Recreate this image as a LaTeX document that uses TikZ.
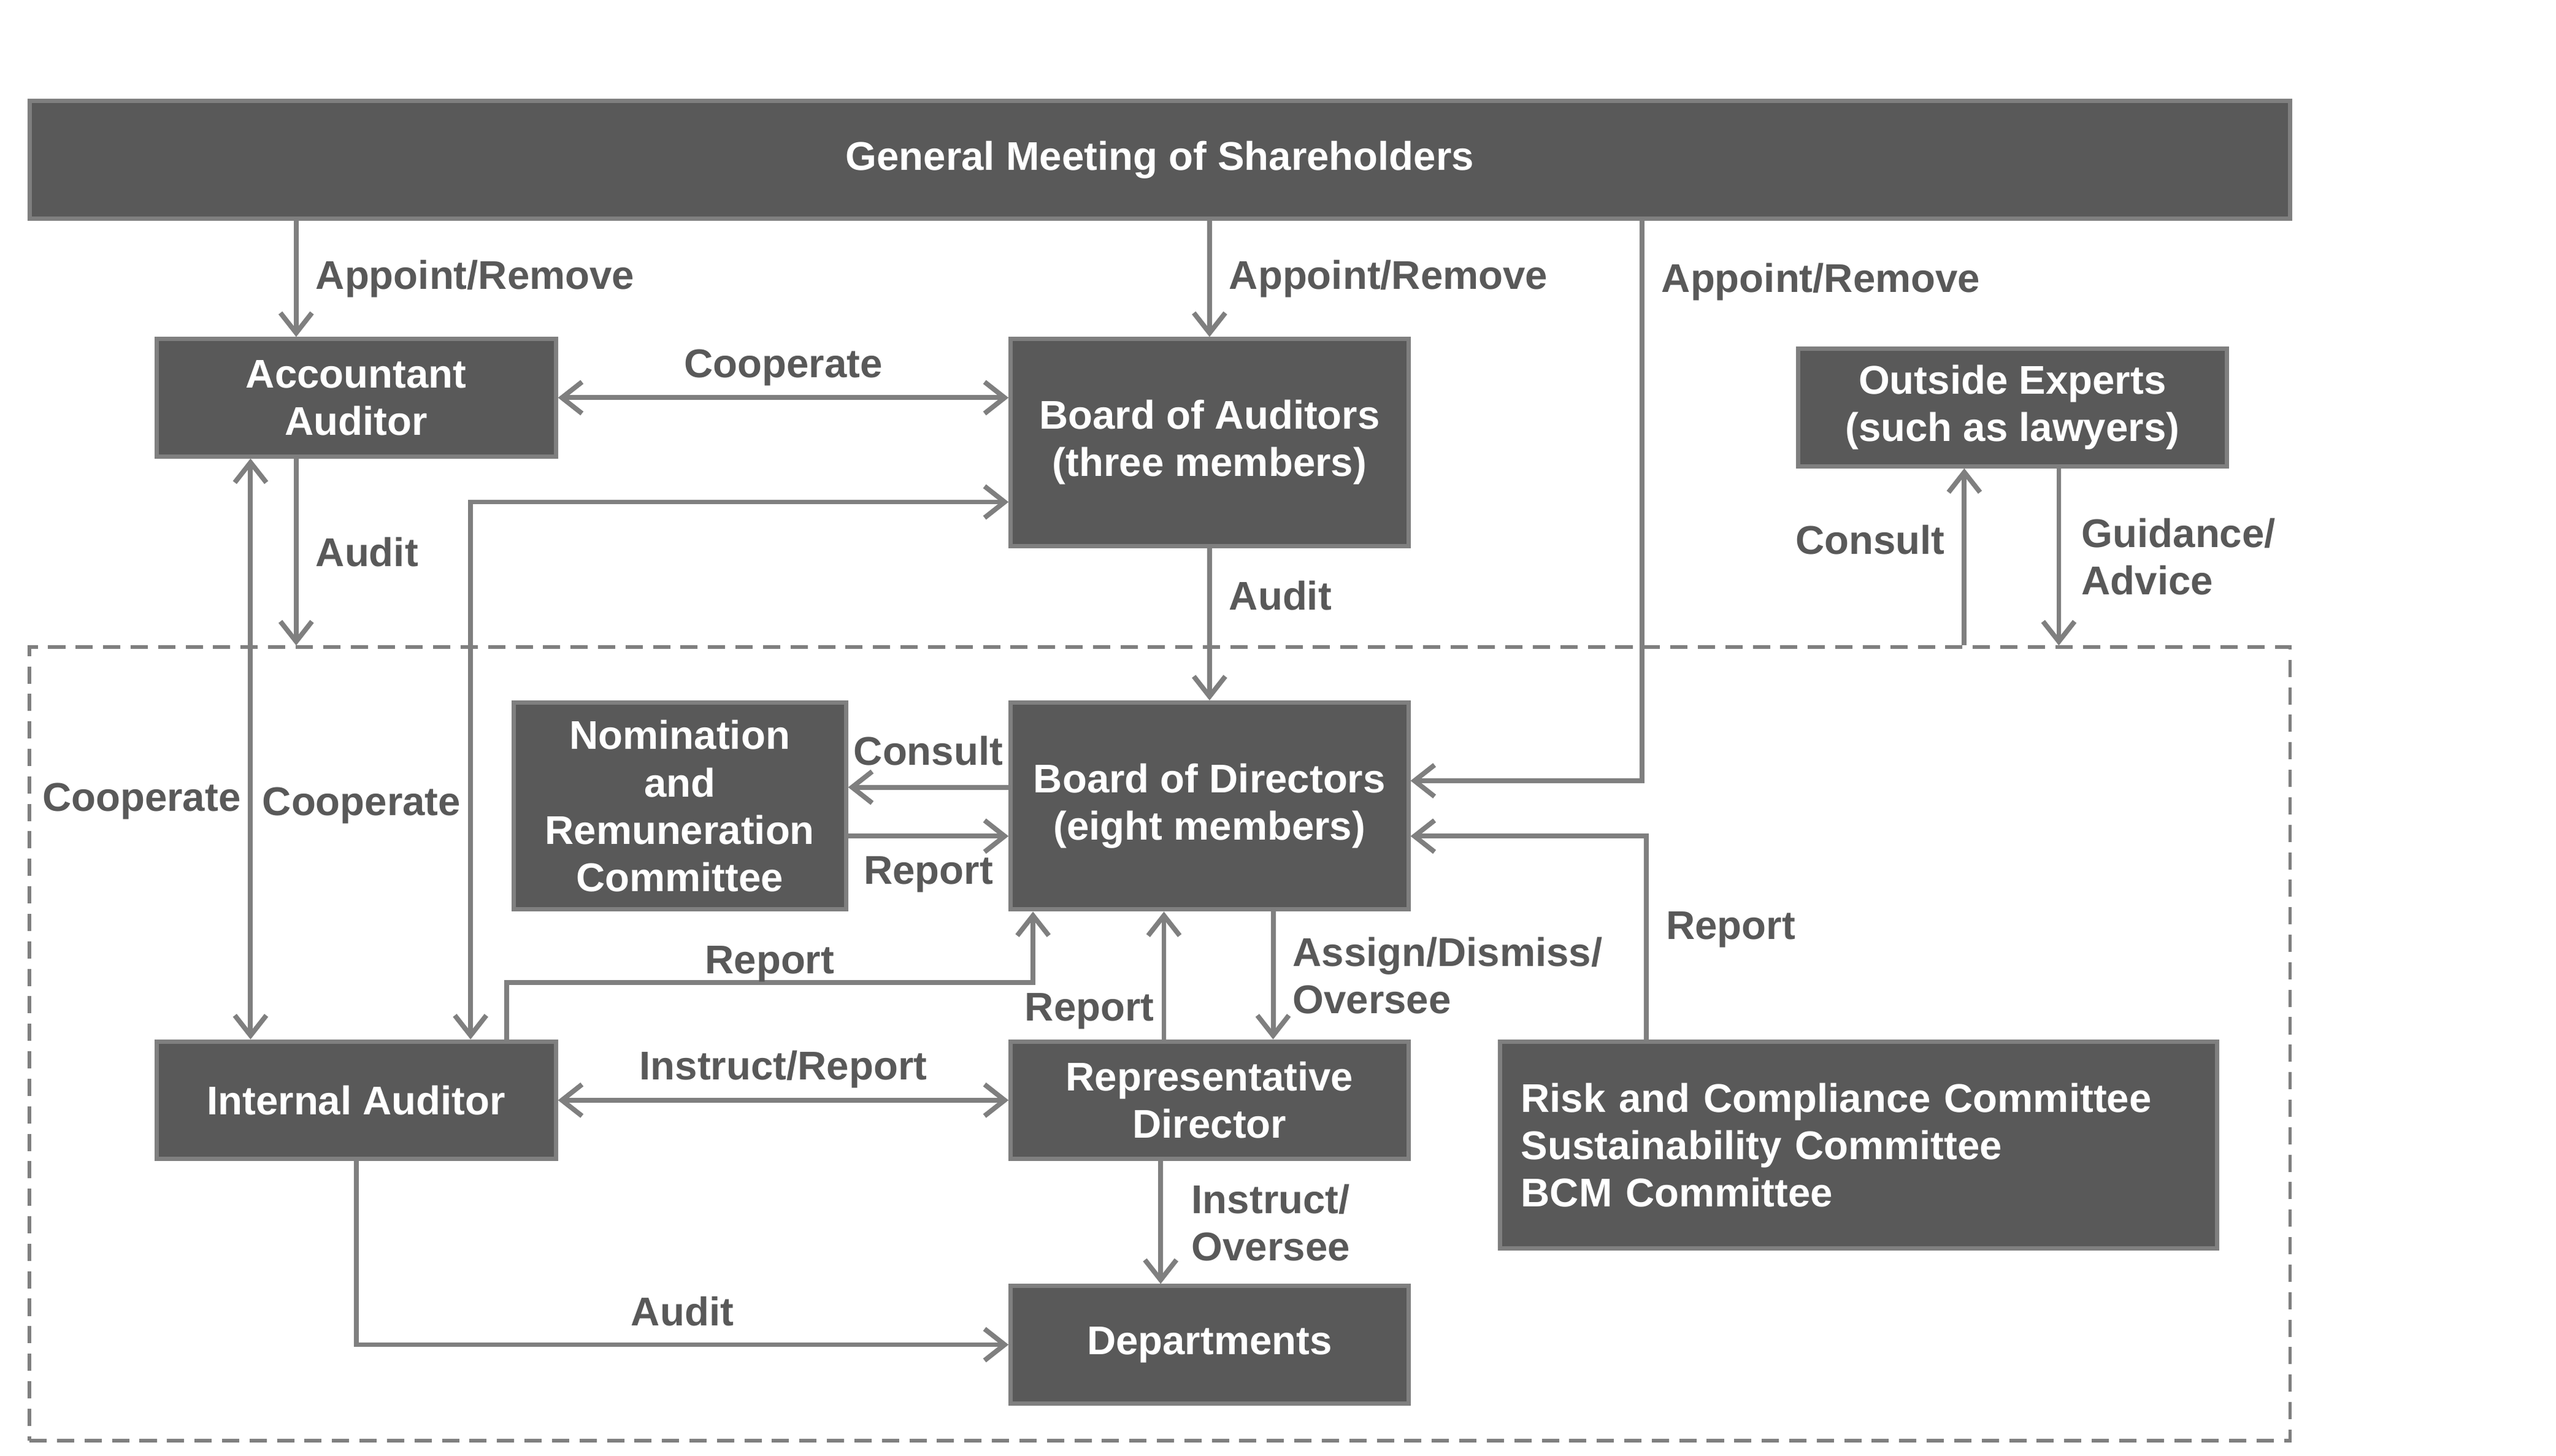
\documentclass[tikz,border=0pt]{standalone}
\usepackage{fontspec}
\setmainfont{Liberation Sans}
\usetikzlibrary{arrows.meta}
\definecolor{boxgray}{HTML}{595959}
\definecolor{linegray}{HTML}{7F7F7F}
\definecolor{textgray}{HTML}{595959}
\tikzset{
  orgbox/.style={draw=linegray, line width=1.5pt, fill=boxgray, text=white, align=center, inner sep=0pt, font=\fontsize{14}{16.5}\selectfont\bfseries},
  flow/.style={draw=linegray, line width=1.7pt, -{Straight Barb[length=7pt,width=11pt]}},
  flowboth/.style={flow, {Straight Barb[length=7pt,width=11pt]}-{Straight Barb[length=7pt,width=11pt]}},
  lbl/.style={text=textgray, align=left, inner xsep=6pt, font=\fontsize{14}{16.5}\selectfont\bfseries},
}
\begin{document}
\begin{tikzpicture}[x=0.02cm, y=-0.02cm]
\useasboundingbox (0,0) rectangle (1568,893);

\node[draw=linegray, line width=1.2pt, dash pattern=on 6pt off 3.6pt, minimum width=27.74cm, minimum height=9.74cm] (frame) at (711.5,640.5) {};

\node[orgbox, minimum width=27.74cm, minimum height=1.44cm] (gms)  at (711.5,98)  {General Meeting of Shareholders};
\node[orgbox, minimum width=4.9cm,   minimum height=1.44cm] (acc)  at (218.5,244) {Accountant\\Auditor};
\node[orgbox, minimum width=4.88cm,  minimum height=2.54cm] (boa)  at (742,271.5) {Board of Auditors\\(three members)};
\node[orgbox, minimum width=5.26cm,  minimum height=1.44cm] (exp)  at (1234.5,250) {Outside Experts\\(such as lawyers)};
\node[orgbox, minimum width=4.08cm,  minimum height=2.54cm] (nrc)  at (417,494.5) {Nomination\\and\\Remuneration\\Committee};
\node[orgbox, minimum width=4.88cm,  minimum height=2.54cm] (bod)  at (742,494.5) {Board of Directors\\(eight members)};
\node[orgbox, minimum width=4.9cm,   minimum height=1.44cm] (ia)   at (218.5,675) {Internal Auditor};
\node[orgbox, minimum width=4.88cm,  minimum height=1.44cm] (rep)  at (742,675)   {Representative\\Director};
\node[orgbox, minimum width=8.8cm,   minimum height=2.54cm, align=left, text width=8.28cm] (risk) at (1140,702.5) {Risk and Compliance Committee\\Sustainability Committee\\BCM Committee};
\node[orgbox, minimum width=4.88cm,  minimum height=1.44cm] (dep)  at (742,825)   {Departments};

\draw[flow] ([xshift=1.74cm]acc.north west |- gms.south) -- ([xshift=1.74cm]acc.north west) node[lbl, midway, right] (lapp1) {Appoint/Remove};
\draw[flow] (gms.south -| boa.north) -- (boa.north) node[lbl, midway, right] (lapp2) {Appoint/Remove};
\draw[flow] ([xshift=2.84cm]bod.east |- gms.south) |- ([yshift=0.31cm]bod.east) node[lbl, pos=0.055, right] (lapp3) {Appoint/Remove};
\draw[flowboth] (acc.east) -- (acc.east -| boa.west) node[lbl, midway, above] (lcoop1) {Cooperate};
\draw[flowboth] ([xshift=3.88cm]ia.north west) |- ([yshift=-0.73cm]boa.west) node[lbl, pos=0.2175, left, xshift=0.12cm] (lcoop2) {Cooperate};
\draw[flowboth] ([xshift=1.18cm]acc.south west) -- ([xshift=1.18cm]ia.north west) node[lbl, pos=0.59, left, xshift=0.12cm] (lcoop3) {Cooperate};
\draw[flow] ([xshift=1.74cm]acc.south west) -- ([xshift=1.74cm]acc.south west |- frame.north) node[lbl, midway, right] (laud1) {Audit};
\draw[flow] (boa.south) -- (bod.north) node[lbl, pos=0.31, right] (laud2) {Audit};
\draw[flow] ([yshift=0.23cm]bod.west) -- ([yshift=0.23cm]bod.west -| nrc.east) node[lbl, midway, above, yshift=0.12cm] (lcons1) {Consult};
\draw[flow] ([yshift=-0.37cm]bod.west -| nrc.east) -- ([yshift=-0.37cm]bod.west) node[lbl, midway, below, yshift=-0.1cm] (lrep1) {Report};
\draw[flow] ([xshift=4.32cm]ia.north west) -- ++(0,-35) -| node[lbl, pos=0.25, above, yshift=-0.14cm] (lrep2) {Report} ([xshift=0.3cm]bod.south west);
\draw[flow] ([xshift=-0.56cm]rep.north) -- ([xshift=-0.56cm]bod.south) node[lbl, pos=0.22, left, xshift=0.12cm] (lrep3) {Report};
\draw[flow] ([xshift=0.78cm]bod.south) -- ([xshift=0.78cm]rep.north) node[lbl, midway, right] (lassign) {Assign/Dismiss/\\Oversee};
\draw[flowboth] (ia.east) -- (rep.west) node[lbl, midway, above] (linst1) {Instruct/Report};
\draw[flow] ([xshift=-0.6cm]rep.south) -- ([xshift=-0.6cm]dep.north) node[lbl, midway, right, xshift=0.14cm] (linst2) {Instruct/\\Oversee};
\draw[flow] (ia.south) |- (dep.west) node[lbl, pos=0.75, above, yshift=0.08cm] (laud3) {Audit};
\draw[flow] ([xshift=-2.6cm]risk.north) |- ([yshift=-0.37cm]bod.east) node[lbl, pos=0.27, right] (lrep4) {Report};
\draw[flow] ([xshift=-0.59cm]exp.south |- frame.north) -- ([xshift=-0.59cm]exp.south) node[lbl, pos=0.595, left] (lcons2) {Consult};
\draw[flow] ([xshift=0.57cm]exp.south) -- ([xshift=0.57cm]exp.south |- frame.north) node[lbl, midway, right, xshift=0.04cm] (lguide) {Guidance/\\Advice};
\end{tikzpicture}
\end{document}
